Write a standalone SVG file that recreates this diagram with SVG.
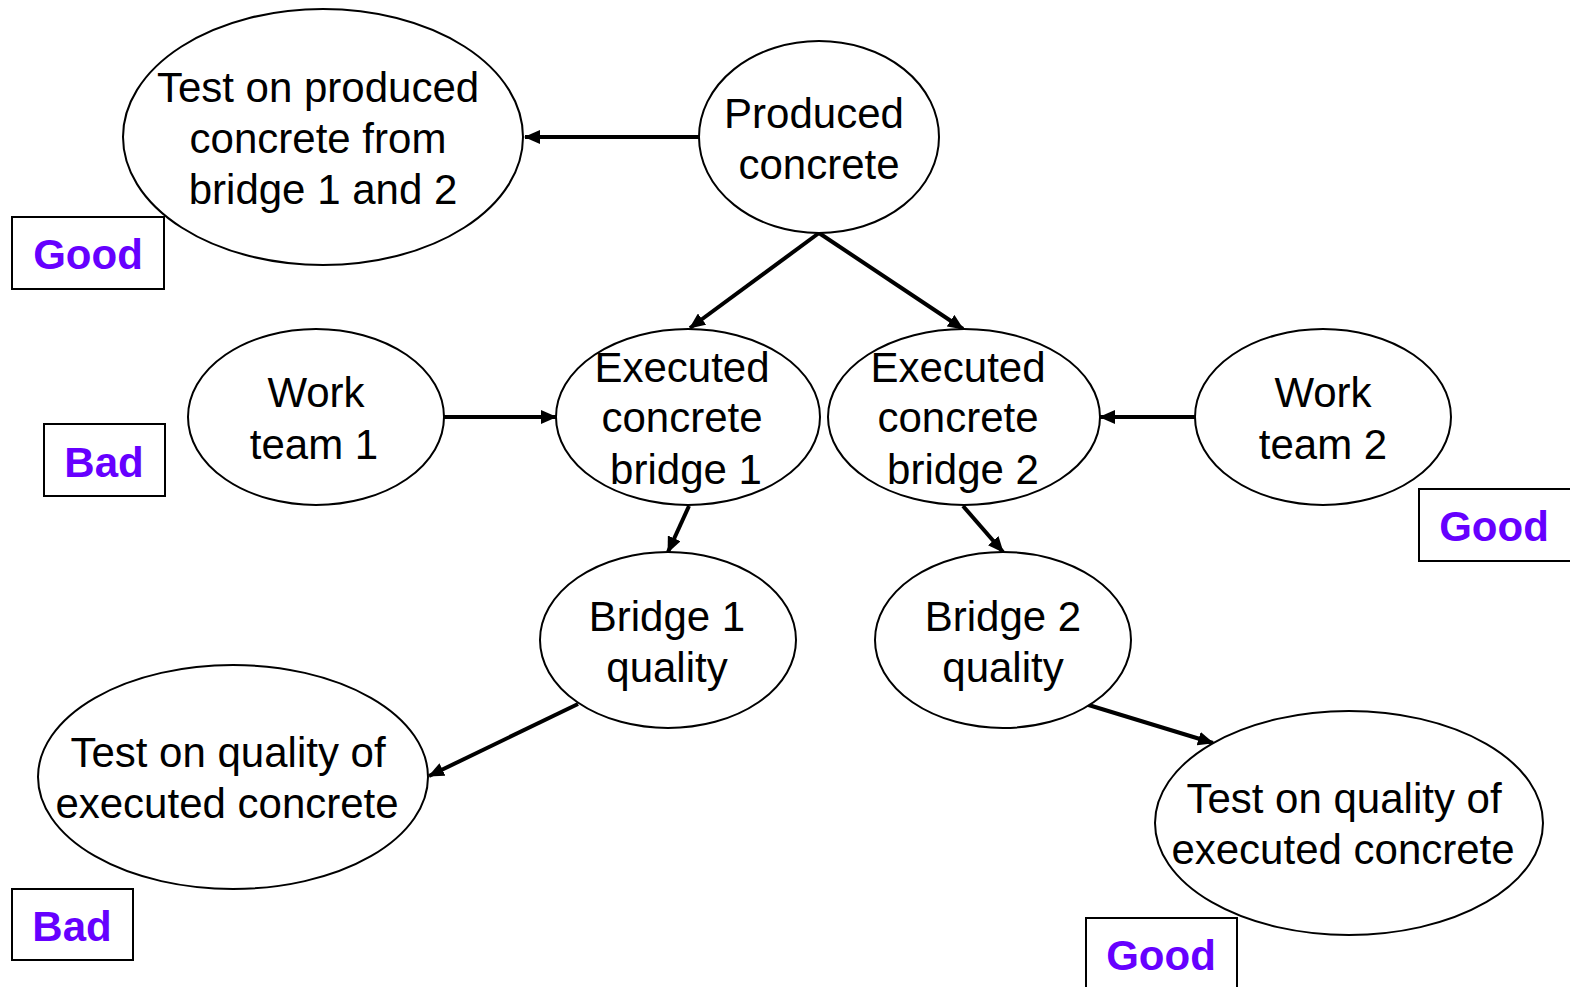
<svg xmlns="http://www.w3.org/2000/svg" width="1570" height="987" viewBox="0 0 1570 987">
<style>
.n{fill:#fff;stroke:#000;stroke-width:2}
.t{font-family:"Liberation Sans",Arial,sans-serif;font-size:42px;fill:#000;text-anchor:middle}
.b{fill:#fff;stroke:#000;stroke-width:2}
.l{font-family:"Liberation Sans",Arial,sans-serif;font-size:42px;font-weight:bold;fill:#6600ff;text-anchor:middle}
.c{stroke:#000;stroke-width:4;fill:none;marker-end:url(#ah)}
</style>
<defs>
<marker id="ah" markerUnits="userSpaceOnUse" markerWidth="16" markerHeight="14" refX="15" refY="7" orient="auto">
<path d="M0,0 L16,7 L0,14 z" fill="#000"/>
</marker>
</defs>
<rect width="1570" height="987" fill="#fff"/>
<g id="connectors">
<line class="c" x1="699" y1="137" x2="525" y2="137"/>
<line class="c" x1="819" y1="233" x2="690" y2="328"/>
<line class="c" x1="819" y1="233" x2="963" y2="329"/>
<line class="c" x1="444" y1="417" x2="556" y2="417"/>
<line class="c" x1="1195" y1="417" x2="1100" y2="417"/>
<line class="c" x1="689" y1="506" x2="668" y2="552"/>
<line class="c" x1="963" y1="506" x2="1003" y2="552"/>
<line class="c" x1="578" y1="704" x2="429" y2="776"/>
<line class="c" x1="1082" y1="703" x2="1213" y2="743"/>
</g>
<g id="test-produced">
<ellipse class="n" cx="323" cy="137" rx="200" ry="128"/>
<text class="t" x="318" y="102">Test on produced</text>
<text class="t" x="318" y="153">concrete from</text>
<text class="t" x="323" y="204">bridge 1 and 2</text>
</g>
<g id="produced-concrete">
<ellipse class="n" cx="819" cy="137" rx="120" ry="96"/>
<text class="t" x="814" y="128">Produced</text>
<text class="t" x="819" y="179">concrete</text>
</g>
<g id="work-team-1">
<ellipse class="n" cx="316" cy="417" rx="128" ry="88"/>
<text class="t" x="316" y="407">Work</text>
<text class="t" x="314" y="459">team 1</text>
</g>
<g id="executed-1">
<ellipse class="n" cx="688" cy="417" rx="132" ry="88"/>
<text class="t" x="682" y="382">Executed</text>
<text class="t" x="682" y="432">concrete</text>
<text class="t" x="686" y="484">bridge 1</text>
</g>
<g id="executed-2">
<ellipse class="n" cx="964" cy="417" rx="136" ry="88"/>
<text class="t" x="958" y="382">Executed</text>
<text class="t" x="958" y="432">concrete</text>
<text class="t" x="963" y="484">bridge 2</text>
</g>
<g id="work-team-2">
<ellipse class="n" cx="1323" cy="417" rx="128" ry="88"/>
<text class="t" x="1323" y="407">Work</text>
<text class="t" x="1323" y="459">team 2</text>
</g>
<g id="bridge-1-quality">
<ellipse class="n" cx="668" cy="640" rx="128" ry="88"/>
<text class="t" x="667" y="631">Bridge 1</text>
<text class="t" x="667" y="682">quality</text>
</g>
<g id="bridge-2-quality">
<ellipse class="n" cx="1003" cy="640" rx="128" ry="88"/>
<text class="t" x="1003" y="631">Bridge 2</text>
<text class="t" x="1003" y="682">quality</text>
</g>
<g id="test-quality-1">
<ellipse class="n" cx="233" cy="777" rx="195" ry="112"/>
<text class="t" x="228" y="767">Test on quality of</text>
<text class="t" x="227" y="818">executed concrete</text>
</g>
<g id="test-quality-2">
<ellipse class="n" cx="1349" cy="823" rx="194" ry="112"/>
<text class="t" x="1344" y="813">Test on quality of</text>
<text class="t" x="1343" y="864">executed concrete</text>
</g>
<g id="label-good-1">
<rect class="b" x="12" y="217" width="152" height="72"/>
<text class="l" x="88" y="269">Good</text>
</g>
<g id="label-bad-1">
<rect class="b" x="44" y="424" width="121" height="72"/>
<text class="l" x="104" y="477">Bad</text>
</g>
<g id="label-good-2">
<rect class="b" x="1419" y="489" width="152" height="72"/>
<text class="l" x="1494" y="541">Good</text>
</g>
<g id="label-bad-2">
<rect class="b" x="12" y="889" width="121" height="71"/>
<text class="l" x="72" y="941">Bad</text>
</g>
<g id="label-good-3">
<rect class="b" x="1086" y="918" width="151" height="72"/>
<text class="l" x="1161" y="970">Good</text>
</g>
</svg>
